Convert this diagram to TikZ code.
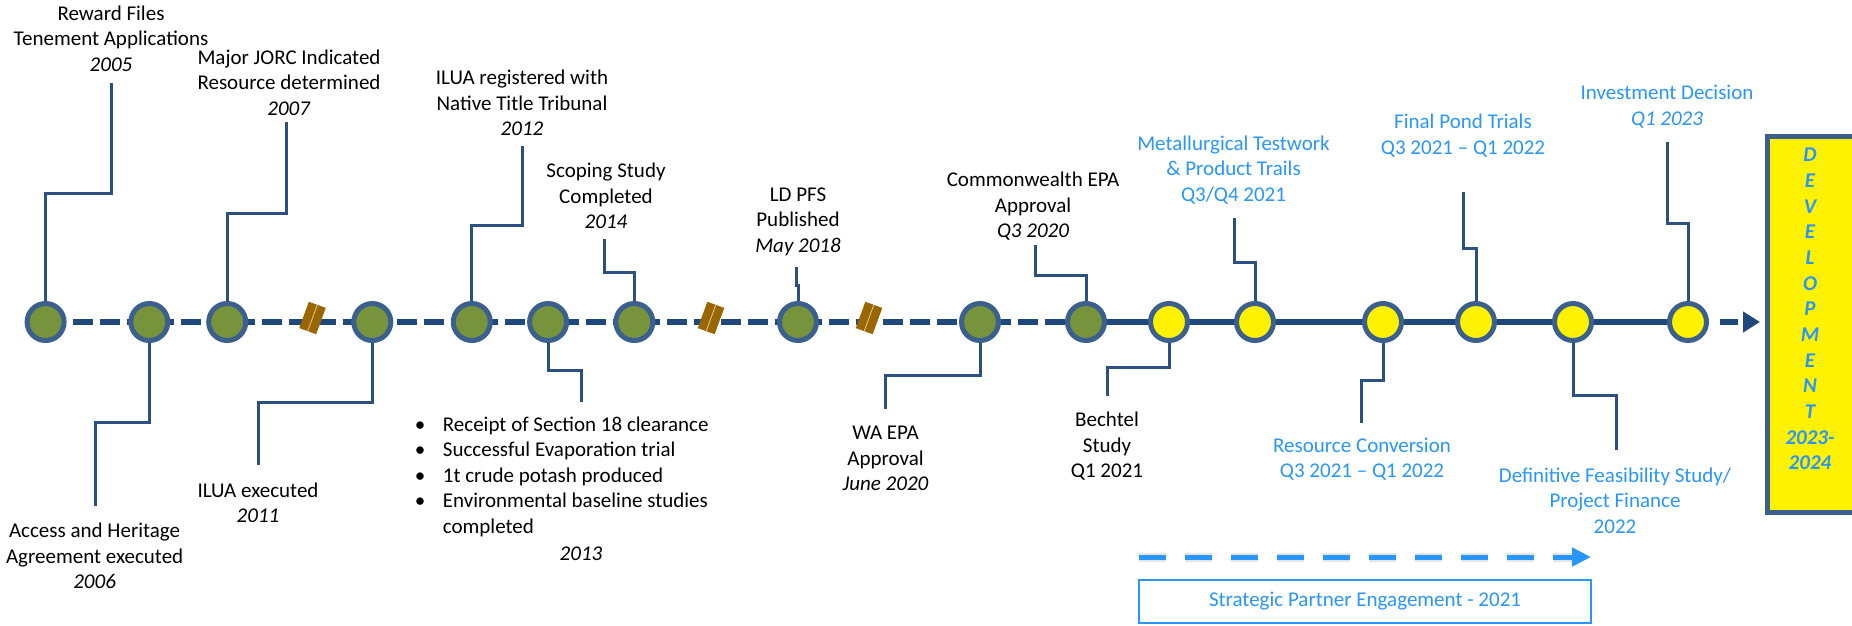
\documentclass[tikz,border=0pt]{standalone}
\usepackage{fontspec}
\setmainfont{Carlito}
\usetikzlibrary{arrows.meta,backgrounds}
\definecolor{navy}{RGB}{31,73,125}
\definecolor{ring}{RGB}{60,96,142}
\definecolor{connc}{RGB}{44,80,130}
\definecolor{olive}{RGB}{119,147,60}
\definecolor{sky}{RGB}{40,150,250}
\definecolor{brkc}{RGB}{153,102,0}
\begin{document}
\begin{tikzpicture}[x=1pt,y=-1pt,
  lbl/.style={font=\fontsize{21}{25.5}\selectfont, align=center, inner sep=0pt},
  blbl/.style={lbl, text=sky},
  ev/.style={circle, draw=ring, line width=5pt, minimum size=37pt, inner sep=0pt, fill=olive},
  evy/.style={ev, fill=yellow},
  link/.style={draw=connc, line width=3pt},
  tline/.style={draw=navy, line width=6.5pt},
  brkmark/.pic={\fill[brkc] (-9,-14) rectangle (9,14);
                \draw[brkc!35!white, line width=0.8pt] (0,-14) -- (0,14);}
]
\useasboundingbox (0,0) rectangle (1852,625);
\clip (0,0) rectangle (1852,625);

% event circles
\node[ev]  (c1)  at (45.6,322) {};
\node[ev]  (c2)  at (149.3,322) {};
\node[ev]  (c3)  at (227.2,322) {};
\node[ev]  (c4)  at (372.3,322) {};
\node[ev]  (c5)  at (471.8,322) {};
\node[ev]  (c6)  at (548.1,322) {};
\node[ev]  (c7)  at (634.3,322) {};
\node[ev]  (c8)  at (798,322) {};
\node[ev]  (c9)  at (980,322) {};
\node[ev]  (c10) at (1086,322) {};
\node[evy] (c11) at (1169,322) {};
\node[evy] (c12) at (1255,322) {};
\node[evy] (c13) at (1383,322) {};
\node[evy] (c14) at (1476,322) {};
\node[evy] (c15) at (1573,322) {};
\node[evy] (c16) at (1688,322) {};

% development box
\node[draw=ring, fill=yellow, line width=5pt, anchor=north west, minimum width=140pt, minimum height=376pt, inner sep=0pt] (dev) at (1764.5,133.5) {};
\node[font=\fontsize{21}{25.67}\selectfont\bfseries\itshape, text=sky, align=center, inner sep=0pt] (devtxt) at (1810,309)
  {D\\E\\V\\E\\L\\O\\P\\M\\E\\N\\T\\2023-\\2024};

% labels above
\node[lbl]  (t1)  at (111,38.6)   {Reward Files\\Tenement Applications\\\textit{2005}};
\node[lbl]  (t3)  at (289,82.5)   {Major JORC Indicated\\Resource determined\\\textit{2007}};
\node[lbl]  (t5)  at (522,103)    {ILUA registered with\\Native Title Tribunal\\\textit{2012}};
\node[lbl]  (t7)  at (606,196)    {Scoping Study\\Completed\\\textit{2014}};
\node[lbl]  (t8)  at (798,221.5)  {LD PFS\\Published\\\textit{May 2018}};
\node[lbl]  (t10) at (1033,206.5) {Commonwealth EPA\\Approval\\\textit{Q3 2020}};
\node[blbl] (t12) at (1233.5,170) {Metallurgical Testwork\\\& Product Trails\\Q3/Q4 2021};
\node[blbl] (t14) at (1463,135.5) {Final Pond Trials\\Q3 2021 -- Q1 2022};
\node[blbl] (t16) at (1667,106.5) {Investment Decision\\\textit{Q1 2023}};
% labels below
\node[lbl]  (t2)  at (94.6,556.2) {Access and Heritage\\Agreement executed\\\textit{2006}};
\node[lbl]  (t4)  at (258,502.9)  {ILUA executed\\\textit{2011}};
\node[lbl, align=left, anchor=west] (t6) at (414.7,476.5)
  {\makebox[28pt][l]{\textbullet}Receipt of Section 18 clearance\\
   \makebox[28pt][l]{\textbullet}Successful Evaporation trial\\
   \makebox[28pt][l]{\textbullet}1t crude potash produced\\
   \makebox[28pt][l]{\textbullet}Environmental baseline studies\\
   \hspace*{28pt}completed};
\node[lbl]  (t6y) at (581,553.3)  {\textit{2013}};
\node[lbl]  (t9)  at (885.5,458.5){WA EPA\\Approval\\\textit{June 2020}};
\node[lbl]  (t11) at (1107,446.2) {Bechtel\\Study\\Q1 2021};
\node[blbl] (t13) at (1362,459.3) {Resource Conversion\\Q3 2021 -- Q1 2022};
\node[blbl] (t15) at (1615,500.3) {Definitive Feasibility Study/\\Project Finance\\2022};

% connector free ends
\coordinate (k1)  at (111,83);
\coordinate (k2)  at (95.4,506);
\coordinate (k3)  at (286,122);
\coordinate (k4)  at (258,465);
\coordinate (k5)  at (522,146);
\coordinate (k6)  at (581.7,401.7);
\coordinate (k7)  at (604,239);
\coordinate (k8)  at (796.6,267);
\coordinate (k9)  at (885.5,409);
\coordinate (k10) at (1035,245);
\coordinate (k11) at (1107,396);
\coordinate (k12) at (1234,218);
\coordinate (k13) at (1361,423);
\coordinate (k14) at (1463,192);
\coordinate (k15) at (1616,450);
\coordinate (k16) at (1667,142);
\coordinate (atip) at (1760,322);
\coordinate (s0) at (1138.5,557);
\coordinate (s1) at (1591,557);

\begin{pgfonlayer}{background}
  % timeline
  \draw[tline, dash pattern=on 20pt off 7pt] (c1.center) -- (c10.center);
  \draw[tline] (c10.center) -- (c16.center);
  \draw[tline, dash pattern=on 0pt off 11pt on 18pt off 60pt, -{Triangle[length=17pt,width=20pt]}] (c16.east) -- (atip);
  % connectors
  \draw[link] (c1.center)  -- ++(0,-129)  -| (k1);
  \draw[link] (c2.center)  -- ++(0,100.7) -| (k2);
  \draw[link] (c3.center)  -- ++(0,-109)  -| (k3);
  \draw[link] (c4.center)  -- ++(0,80.7)  -| (k4);
  \draw[link] (c5.center)  -- ++(0,-97)   -| (k5);
  \draw[link] (c6.center)  -- ++(0,48)    -| (k6);
  \draw[link] (c7.center)  -- ++(0,-50)   -| (k7);
  \draw[link] (c8.center)  -- ++(0,-37)   -| (k8);
  \draw[link] (c9.center)  -- ++(0,53)    -| (k9);
  \draw[link] (c10.center) -- ++(0,-47)   -| (k10);
  \draw[link] (c11.center) -- ++(0,45.7)  -| (k11);
  \draw[link] (c12.center) -- ++(0,-60)   -| (k12);
  \draw[link] (c13.center) -- ++(0,58)    -| (k13);
  \draw[link] (c14.center) -- ++(0,-74)   -| (k14);
  \draw[link] (c15.center) -- ++(0,73)    -| (k15);
  \draw[link] (c16.center) -- ++(0,-99)   -| (k16);
\end{pgfonlayer}

% break marks
\pic[rotate=-20] at (312.5,318) {brkmark};
\pic[rotate=-20] at (711,318) {brkmark};
\pic[rotate=-20] at (869,318) {brkmark};

% strategic partner arrow with soft shadow
\begin{scope}[shift={(3,6)}]
  \draw[black!40, opacity=0.25, line width=9pt, dash pattern=on 27pt off 19pt] (s0) -- ([xshift=-19pt]s1);
  \draw[black!45, opacity=0.35, line width=5pt, dash pattern=on 27pt off 19pt] (s0) -- ([xshift=-19pt]s1);
\end{scope}
\draw[sky, line width=5pt, dash pattern=on 27pt off 19pt, -{Triangle[length=19pt,width=18pt]}] (s0) -- (s1);
\node[draw=sky, line width=2pt, fill=white, minimum width=452pt, minimum height=43pt, inner sep=0pt,
      font=\fontsize{21}{25.5}\selectfont, text=sky] (spe) at (1365,601.5) {Strategic Partner Engagement - 2021};
\end{tikzpicture}
\end{document}
